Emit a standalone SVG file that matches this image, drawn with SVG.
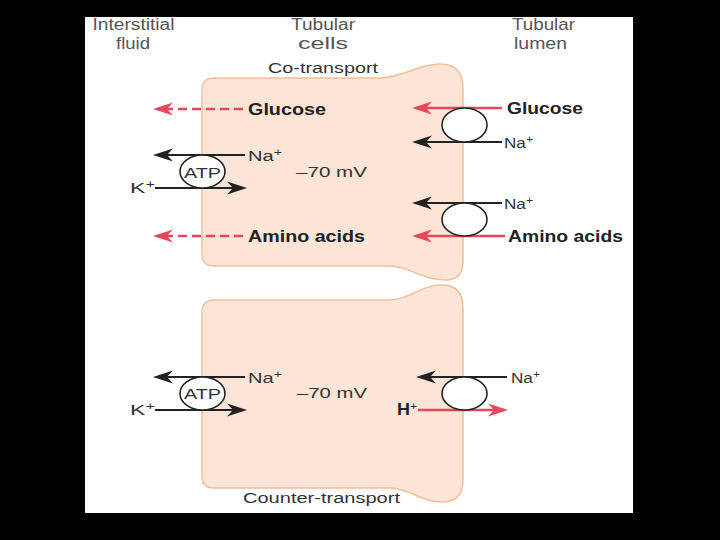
<svg xmlns="http://www.w3.org/2000/svg" width="720" height="540" viewBox="0 0 720 540">
<defs>
<style>
.hdr{font-family:"Liberation Sans",Arial,sans-serif;font-size:16px;fill:#555}
.lbl{font-family:"Liberation Sans",Arial,sans-serif;font-size:15.5px;fill:#333}
.bld{font-family:"Liberation Sans",Arial,sans-serif;font-size:16.5px;font-weight:bold;fill:#222}
.cell{fill:#fce5d6;stroke:#f0bf9c;stroke-width:1.5}
.tr{fill:#fff;stroke:#222;stroke-width:1.6}
.blk{stroke:#222;stroke-width:2.2;fill:none}
.red{stroke:#e5485c;stroke-width:2.5;fill:none}
.dash{stroke:#e5485c;stroke-width:2.5;fill:none;stroke-dasharray:9 5}
</style>
<marker id="ab" viewBox="0 0 22 14" refX="16" refY="7" markerWidth="22" markerHeight="14" markerUnits="userSpaceOnUse" orient="auto">
<path d="M0,0.5 L20,7 L0,13.5 L6,7 Z" fill="#222"/>
</marker>
<marker id="ar" viewBox="0 0 22 14" refX="16" refY="7" markerWidth="22" markerHeight="14" markerUnits="userSpaceOnUse" orient="auto">
<path d="M0,0.5 L20,7 L0,13.5 L6,7 Z" fill="#e5485c"/>
</marker>
</defs>
<rect x="0" y="0" width="720" height="540" fill="#000"/>
<rect x="85" y="17" width="548" height="496" fill="#fff"/>

<g id="headers">
<text class="hdr" x="92.5" y="30" textLength="82" lengthAdjust="spacingAndGlyphs">Interstitial</text>
<text class="hdr" x="116" y="49" textLength="34" lengthAdjust="spacingAndGlyphs">fluid</text>
<text class="hdr" x="291" y="30" textLength="64" lengthAdjust="spacingAndGlyphs">Tubular</text>
<text class="hdr" x="298" y="49" textLength="50" lengthAdjust="spacingAndGlyphs">cells</text>
<text class="hdr" x="512" y="30" textLength="63" lengthAdjust="spacingAndGlyphs">Tubular</text>
<text class="hdr" x="514" y="49" textLength="53" lengthAdjust="spacingAndGlyphs">lumen</text>
</g>

<g id="cell-co">
<path class="cell" d="M202,90 Q202,78 214,78 L380,78 C402,78 418,64 440,64 Q463,64 463,88 L463,262 Q463,280 445,280 C420,280 410,266 390,266 L214,266 Q202,266 202,254 Z"/>
<text class="lbl" x="268" y="73" textLength="110" lengthAdjust="spacingAndGlyphs">Co-transport</text>
<text class="lbl" x="296" y="177" textLength="71" lengthAdjust="spacingAndGlyphs">–70 mV</text>
</g>

<g id="cell-counter">
<path class="cell" d="M202,312 Q202,300 214,300 L388,300 C410,300 420,285 442,285 Q463,285 463,308 L463,480 Q463,502 442,502 C420,502 410,488 390,488 L214,488 Q202,488 202,476 Z"/>
<text class="lbl" x="243" y="503" textLength="157" lengthAdjust="spacingAndGlyphs">Counter-transport</text>
<text class="lbl" x="297" y="398" textLength="70" lengthAdjust="spacingAndGlyphs">–70 mV</text>
</g>

<g id="connectors">
<line class="dash" x1="243" y1="109" x2="157" y2="109" marker-end="url(#ar)"/>
<line class="blk" x1="245" y1="155" x2="157" y2="155" marker-end="url(#ab)"/>
<line class="blk" x1="155" y1="188" x2="243" y2="188" marker-end="url(#ab)"/>
<line class="dash" x1="243" y1="236" x2="157" y2="236" marker-end="url(#ar)"/>
<line class="red" x1="502" y1="108" x2="416" y2="108" marker-end="url(#ar)"/>
<line class="blk" x1="502" y1="142" x2="416" y2="142" marker-end="url(#ab)"/>
<line class="blk" x1="502" y1="203" x2="416" y2="203" marker-end="url(#ab)"/>
<line class="red" x1="505" y1="236" x2="416" y2="236" marker-end="url(#ar)"/>
<line class="blk" x1="245" y1="377" x2="157" y2="377" marker-end="url(#ab)"/>
<line class="blk" x1="155" y1="410" x2="243" y2="410" marker-end="url(#ab)"/>
<line class="blk" x1="507" y1="377" x2="420" y2="377" marker-end="url(#ab)"/>
<line class="red" x1="418" y1="410" x2="504" y2="410" marker-end="url(#ar)"/>
</g>

<g id="atp-co">
<ellipse class="tr" cx="202.5" cy="171.5" rx="22.5" ry="16.5"/>
<text class="lbl" x="184" y="178" textLength="37" lengthAdjust="spacingAndGlyphs">ATP</text>
</g>
<g id="atp-counter">
<ellipse class="tr" cx="202.5" cy="393.5" rx="22.5" ry="16.5"/>
<text class="lbl" x="184" y="399" textLength="37" lengthAdjust="spacingAndGlyphs">ATP</text>
</g>
<g id="sglt-glucose"><ellipse class="tr" cx="464.5" cy="125" rx="22.5" ry="17"/></g>
<g id="sglt-amino"><ellipse class="tr" cx="464.5" cy="219.5" rx="22.5" ry="16.5"/></g>
<g id="nhe"><ellipse class="tr" cx="464.5" cy="393.5" rx="22.5" ry="16.5"/></g>

<g id="labels">
<text class="bld" x="248" y="115" textLength="78" lengthAdjust="spacingAndGlyphs">Glucose</text>
<text class="lbl" x="248" y="161" textLength="34" lengthAdjust="spacingAndGlyphs">Na<tspan dy="-5" font-size="11">+</tspan></text>
<text class="lbl" x="130" y="193" textLength="25" lengthAdjust="spacingAndGlyphs">K<tspan dy="-5" font-size="11">+</tspan></text>
<text class="bld" x="248" y="242" textLength="117" lengthAdjust="spacingAndGlyphs">Amino acids</text>
<text class="bld" x="507" y="114" textLength="76" lengthAdjust="spacingAndGlyphs">Glucose</text>
<text class="lbl" x="504" y="148" textLength="29" lengthAdjust="spacingAndGlyphs">Na<tspan dy="-5" font-size="11">+</tspan></text>
<text class="lbl" x="504" y="209" textLength="29" lengthAdjust="spacingAndGlyphs">Na<tspan dy="-5" font-size="11">+</tspan></text>
<text class="bld" x="508" y="242" textLength="115" lengthAdjust="spacingAndGlyphs">Amino acids</text>
<text class="lbl" x="248" y="383" textLength="34" lengthAdjust="spacingAndGlyphs">Na<tspan dy="-5" font-size="11">+</tspan></text>
<text class="lbl" x="130" y="415" textLength="25" lengthAdjust="spacingAndGlyphs">K<tspan dy="-5" font-size="11">+</tspan></text>
<text class="lbl" x="511" y="383" textLength="29" lengthAdjust="spacingAndGlyphs">Na<tspan dy="-5" font-size="11">+</tspan></text>
<text class="bld" x="397" y="415" textLength="20" lengthAdjust="spacingAndGlyphs">H<tspan dy="-5" font-size="11" font-weight="normal">+</tspan></text>
</g>

<path d="M0,0 H720 V540 H0 Z M85,17 V513 H633 V17 Z" fill="#000" fill-rule="evenodd"/>
</svg>
